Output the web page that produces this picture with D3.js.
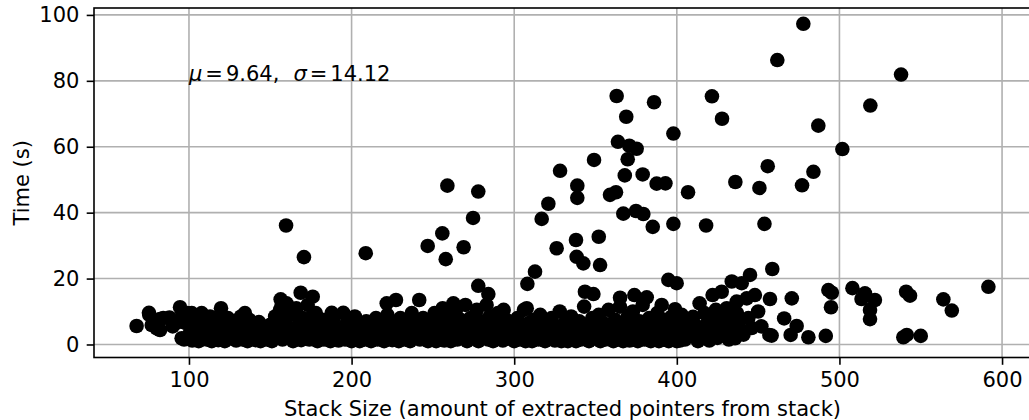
<!DOCTYPE html>
<html lang="en">
<head>
<meta charset="UTF-8">
<title>Stack size vs time</title>
<script src="https://d3js.org/d3.v7.min.js"></script>
<style>
  body { margin: 0; background: #fff; }
  svg { display: block; font-family: "DejaVu Sans", sans-serif; }
</style>
</head>
<body>
<svg id="chart" width="1029" height="420"></svg>
<script>
// [stack size, time in seconds]
var lowBand = [
  [67.8,5.6],[75.6,9.0],[75.4,9.6],[77.1,5.9],[80.1,4.9],[82.2,7.7],[82.2,4.4],[84.2,8.0],[88,8.2],[90,5.5],[92,6.5],
  [94.5,11.3],[95.5,1.9],[96,9.5],[97,1.5],[98,6.5],[99,9.5],[100,3.0],[101,8.0],[101.7,9.5],[102,1.2],[103,5.0],
  [104,2.5],[105,7.0],[106,1.0],[107,4.0],[107.8,9.5],[108,9.0],[109,2.0],[110,6.0],[111,1.5],[112,3.5],[113,8.5],
  [114,1.0],[115,5.5],[116,2.8],[117,7.5],[118,1.3],[119,4.5],[119.7,11.0],[120,2.0],[121,6.5],[122,1.0],[123,3.5],
  [124,8.0],[125,1.8],[126,5.0],[127,2.5],[128,7.0],[129,1.2],[130,4.0],[131,2.8],[132,8.5],[133,1.5],[134,6.0],
  [134.4,9.5],[135,3.0],[136,1.0],[137,7.5],[138,4.5],[139,2.0],[140,5.5],[141,1.3],[142,3.8],[143,6.8],[144,1.0],
  [145,4.0],[146,2.2],[147,5.0],[148,1.5],[149,3.2],[150,6.0],[151,1.0],[152,4.5],[153,8.5],[153.9,7.7],[154,2.0],
  [155,6.0],[156,10.5],[156.4,13.7],[157,12.0],[157.5,1.5],[158,3.5],[159,7.0],[160,12.5],[161,2.5],[162,5.0],
  [163,9.0],[164,1.0],[165,4.0],[166,11.0],[167,2.0],[168,6.5],[168.7,15.7],[169,1.3],[170,8.0],[171,3.0],[172,5.5],
  [173,12.0],[174,1.5],[175,7.0],[176,4.0],[176.1,14.5],[176.5,9.5],[177,2.0],[178,9.5],[179,1.0],[180,5.0],[181,3.0],
  [182,7.5],[183,1.5],[184,4.5],[185,2.5],[186,6.0],[187,1.0],[187.8,9.6],[188,3.5],[189,8.0],[190,2.0],[191,5.0],
  [192,1.2],[193,3.0],[194.9,9.6],[195,4.5],[196,1.5],[197,6.5],[198,2.5],[199,5.0],[200,1.0]
];
var midBand = [
  [201,4.0],[202,8.5],[203,2.0],[204,6.0],[205,1.0],[206,3.5],[207,5.5],[208,1.5],[209,7.0],[210,2.5],[211,4.5],
  [212,1.0],[213,6.0],[214,3.0],[215,8.0],[216,1.5],[217,5.0],[218,2.5],[219,7.0],[220,1.0],[221,4.0],[221.6,12.5],
  [222,9.0],[223,2.0],[224,6.0],[225,1.3],[226,3.5],[227.3,13.5],[228,5.5],[229,1.0],[230,8.0],[231,2.8],[232,4.5],
  [233,1.5],[234,6.5],[235,3.0],[236,1.0],[237,9.5],[238,5.0],[239,2.0],[240,7.0],[241.6,13.5],[242,1.5],[243,4.0],
  [244,8.0],[245,2.5],[246,5.5],[247,1.0],[248,3.5],[249,6.5],[250,2.0],[251,9.5],[252,1.0],[253,4.5],[254,7.0],
  [255,2.5],[256,11.0],[257,1.2],[258,5.5],[259,3.0],[260,8.5],[261,1.0],[262,6.0],[262.6,12.5],[263,3.5],[264,10.0],
  [265,1.5],[266,4.5],[267,7.5],[268,2.0],[269,5.0],[270,12.0],[271,1.0],[272,3.0],[273,8.0],[274,1.8],[275,6.0],
  [276,4.0],[277,10.5],[277.9,17.8],[278,1.0],[279,3.0],[280,7.0],[281,2.0],[282,5.0],[283,12.0],[284,1.5],
  [284.1,15.3],[285,8.5],[286,3.5],[287,1.0],[288,6.0],[289,4.0],[290,9.5],[291,2.0],[292,5.5],[293,1.2],[293.5,10.5],
  [294,3.0],[295,7.5],[296,1.8],[297,4.5],[298,2.5],[299,6.0],[300,1.0],[301,3.5],[302,8.0],[303,1.5],[304,5.0],
  [305,2.0],[306,10.5],[307,1.0],[307.7,11.0],[308,4.0],[308.1,18.4],[309,6.5],[310,2.5],[311,1.0],[312,7.5],
  [312.8,22.1],[313,3.0],[314,5.0],[315,1.5],[316,9.0],[317,2.0],[318,4.5],[319,1.0],[320,6.0],[321,3.0],[322,1.8],
  [323,8.0],[324,4.0],[325,1.2],[326,5.5],[327,2.5],[328,10.0],[329,1.0],[330,3.5],[331,6.5],[332,2.0],[333,1.0],
  [334,4.5],[335,8.5],[336,2.5],[337,5.5],[338,1.0],[339,3.5],[340,7.0],[341,1.5],[342,4.5],[343,11.5],[343.5,16.0],
  [344,2.0],[345,6.0],[346,1.0],[347,3.0],[348,8.0],[348.7,15.3],[349,1.8],[350,5.0]
];
var upperBand = [
  [351,2.5],[352,9.0],[353,1.0],[354,4.5],[355,6.5],[356,1.5],[357,3.5],[358,10.5],[359,2.0],[360,5.5],[361,1.0],
  [362,7.5],[363,3.0],[364,1.8],[365,11.5],[365.1,14.2],[366,4.5],[367,1.0],[368,6.0],[369,2.5],[370,8.5],[371,1.2],
  [372,4.0],[373,10.0],[373.9,15.0],[374,2.0],[375,5.5],[376,1.0],[377,7.0],[378,3.0],[379,12.0],[380,1.5],
  [381,5.0],[381.5,14.3],[382,2.5],[383,8.0],[384,1.0],[385,4.0],[386,6.5],[387,2.0],[388,9.5],[389,1.0],[390,3.5],
  [390.7,12.0],[391,5.5],[392,1.5],[393,7.5],[394,3.0],[394.8,19.6],[395,1.0],[396,5.0],[397,8.5],[398,2.0],
  [398.9,10.7],[399,4.0],[399.9,18.6],[400,1.0],[401,6.5],[402,1.2],[402.5,3.0],[403,9.0],[404,5.5],[405,1.5],
  [406,7.0],[407,2.5],[408,4.5],[410,8.4],[411,6.0],[412,3.0],[413,1.0],[414,12.5],[415,4.5],[416,2.0],[417,9.5],
  [418,6.0],[419,3.5],[420,1.2],[421,7.5],[422,15.0],[423,4.5],[424,10.5],[425,2.0],[426,6.5],[427.6,16.0],[428,3.0],
  [429,8.5],[430.7,11.0],[431,5.0],[432,1.5],[433.8,19.1],[434,7.0],[435,3.0],[435.8,1.9],[436.7,7.4],[436.8,13.0],
  [437,9.5],[438,5.5],[439.9,18.6],[441,3.0],[443,14.0],[444,8.0],[445,21.1],[446,5.0],[448,15.0],[450,10.0],
  [452,5.5],[456.9,2.9],[457.3,13.8],[458.3,2.7],[458.7,22.9]
];
var outliers = [
  [159.7,36.1],[170.7,26.5],[208.7,27.7],[246.8,29.9],[255.8,33.7],[257.9,25.9],[258.9,48.2],[268.9,29.5],
  [274.7,38.4],[277.9,46.4],[316.9,38.1],[321.0,42.7],[326.1,29.2],[328.2,52.7],[338.0,31.7],[338.4,26.6],
  [338.8,48.2],[338.8,44.5],[342.5,24.6],[349.1,56.0],[352.0,32.7],[352.8,24.1],[358.9,45.4],[362.6,46.2],
  [363.0,75.4],[363.8,61.5],[367.1,39.7],[368.0,51.3],[368.9,69.1],[369.8,56.2],[370.8,60.3],[374.9,40.5],
  [375.3,59.4],[379.0,51.6],[379.4,39.6],[385.2,35.7],[386.0,73.5],[387.6,48.8],[393.0,48.9],[397.9,64.0],
  [397.9,36.6],[406.9,46.2],[418.0,36.1],[421.6,75.3],[427.8,68.5],[436.0,49.3],[450.8,47.5],[453.9,36.6],
  [455.9,54.1],[461.8,86.3],[477.0,48.3],[477.8,97.3],[484.0,52.4],[487.0,66.4],[501.8,59.3],[519.0,72.5],
  [537.9,81.9]
];
var tailPoints = [
  [466.0,7.9],[470.0,2.9],[470.7,14.0],[473.7,5.6],[480.9,2.2],[491.6,2.6],[493.2,16.5],[494.8,11.3],[495.3,15.7],
  [508.0,17.1],[513.6,13.8],[515.7,15.5],[518.8,10.5],[518.8,7.7],[521.8,13.5],[539.3,2.2],[541.0,16.0],
  [541.4,2.9],[543.4,14.8],[550.0,2.6],[563.9,13.7],[569.1,10.3],[591.6,17.5]
];
var xTicks = [100, 200, 300, 400, 500, 600];
var yTicks = [0, 20, 40, 60, 80, 100];
var xLabel = "Stack Size (amount of extracted pointers from stack)";
var yLabel = "Time (s)";

var points = lowBand.concat(midBand, upperBand, outliers, tailPoints);

var svg = d3.select("#chart");
var plotLeft = 94, plotRight = 1031, plotTop = 8, plotBottom = 357.5;
var fontSize = 21;

var x = d3.scaleLinear().domain([41.6, 617.8]).range([plotLeft, plotRight]);
var y = d3.scaleLinear().domain([-3.95, 102.1]).range([plotBottom, plotTop]);

// grid
var grid = svg.append("g").attr("stroke", "#b0b0b0").attr("stroke-width", 1.6);
grid.selectAll("line.gx").data(xTicks).enter().append("line")
  .attr("x1", function(d) { return x(d); }).attr("x2", function(d) { return x(d); })
  .attr("y1", plotTop).attr("y2", plotBottom);
grid.selectAll("line.gy").data(yTicks).enter().append("line")
  .attr("y1", function(d) { return y(d); }).attr("y2", function(d) { return y(d); })
  .attr("x1", plotLeft).attr("x2", plotRight);

// points
svg.append("g").selectAll("circle").data(points).enter().append("circle")
  .attr("cx", function(d) { return x(d[0]); })
  .attr("cy", function(d) { return y(d[1]); })
  .attr("r", 7.3)
  .attr("fill", "#000");

// frame
svg.append("rect").attr("x", plotLeft).attr("y", plotTop)
  .attr("width", plotRight - plotLeft).attr("height", plotBottom - plotTop)
  .attr("fill", "none").attr("stroke", "#000").attr("stroke-width", 1.6);

// axes
var xAxis = svg.append("g").attr("transform", "translate(0," + plotBottom + ")")
  .call(d3.axisBottom(x).tickValues(xTicks).tickSize(7.3).tickPadding(7.3).tickFormat(d3.format("d")));
var yAxis = svg.append("g").attr("transform", "translate(" + plotLeft + ",0)")
  .call(d3.axisLeft(y).tickValues(yTicks).tickSize(7.3).tickPadding(7.3).tickFormat(d3.format("d")));
[xAxis, yAxis].forEach(function(a) {
  a.select(".domain").remove();
  a.selectAll(".tick line").attr("stroke", "#000").attr("stroke-width", 1.6);
  a.selectAll(".tick text").attr("fill", "#000")
    .style("font-size", fontSize + "px").style("font-family", "DejaVu Sans");
});

// axis labels
svg.append("text").attr("x", (plotLeft + plotRight) / 2).attr("y", 416)
  .attr("text-anchor", "middle").style("font-size", fontSize + "px").text(xLabel);
svg.append("text").attr("transform", "translate(28.5," + ((plotTop + plotBottom) / 2) + ") rotate(-90)")
  .attr("text-anchor", "middle").style("font-size", fontSize + "px").text(yLabel);

// stats annotation
var note = svg.append("text").attr("x", x(100)).attr("y", y(80)).style("font-size", fontSize + "px");
note.append("tspan").attr("font-style", "italic").text("\u03bc");
note.append("tspan").attr("dx", 3).text("=");
note.append("tspan").attr("dx", 3).text("9.64,");
note.append("tspan").attr("dx", 14).attr("font-style", "italic").text("\u03c3");
note.append("tspan").attr("dx", 3).text("=");
note.append("tspan").attr("dx", 3).text("14.12");
</script>
</body>
</html>
